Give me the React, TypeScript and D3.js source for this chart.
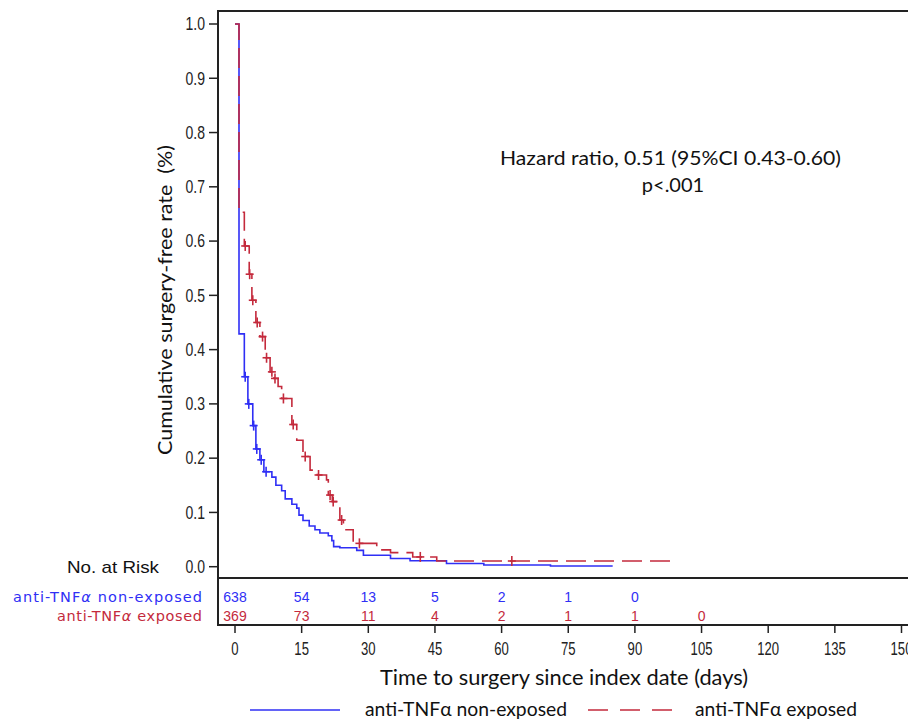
import React from "react";
import * as d3 from "d3";

// ---- data ----
const nonExposedTimes = [0, 0.9, 2.1, 2.9, 4.0, 4.7, 5.6, 6.5, 8.3, 9.2, 10.5, 11.3, 12.8, 13.9, 14.4, 15.3, 16.7, 18.0, 19.1, 21.0, 21.8, 22.2, 23.6, 27.4, 28.9, 35, 39.4, 47.6, 56, 71, 85];
const nonExposedSurv = [1.0, 0.429, 0.35, 0.30, 0.26, 0.217, 0.197, 0.175, 0.165, 0.15, 0.14, 0.125, 0.115, 0.108, 0.095, 0.085, 0.075, 0.068, 0.062, 0.057, 0.048, 0.037, 0.035, 0.030, 0.021, 0.015, 0.011, 0.006, 0.003, 0.0012, 0.0012];
const nonExposedCensor = [2.3, 3.1, 4.2, 4.9, 5.9, 7.0];

const exposedTimes = [0, 0.9, 2.1, 3.2, 3.8, 4.7, 5.6, 6.8, 7.9, 8.8, 9.7, 10.5, 12.8, 13.9, 15.3, 16.9, 18.5, 20.6, 21.0, 21.9, 23.6, 24.4, 26.6, 31.9, 35, 40, 45.4, 98, 98];
const exposedSurv = [1.0, 0.653, 0.591, 0.539, 0.491, 0.45, 0.424, 0.385, 0.359, 0.347, 0.332, 0.31, 0.262, 0.233, 0.203, 0.178, 0.169, 0.16, 0.132, 0.12, 0.086, 0.068, 0.043, 0.031, 0.026, 0.018, 0.0105, 0.0, 0.0];
const exposedCensor = [2.3, 3.3, 4.0, 5.0, 6.2, 7.1, 8.3, 9.0, 10.9, 13.1, 15.8, 18.8, 21.4, 22.1, 24.0, 28.0, 41.7, 62.3];

const riskTimes = [0, 15, 30, 45, 60, 75, 90, 105];
const riskNonExposed = ["638", "54", "13", "5", "2", "1", "0"];
const riskExposed = ["369", "73", "11", "4", "2", "1", "1", "0"];

const xTicks = [0, 15, 30, 45, 60, 75, 90, 105, 120, 135, 150];
const yTicks = [0, 0.1, 0.2, 0.3, 0.4, 0.5, 0.6, 0.7, 0.8, 0.9, 1.0];

const BLUE = "#2f2ff5";
const RED = "#c42a3c";

function survAt(times: number[], surv: number[], t: number) {
  let s = surv[0];
  for (let i = 0; i < times.length; i++) if (times[i] <= t) s = surv[i];
  return s;
}

export default function App() {
  const W = 908, H = 720;
  const x = d3.scaleLinear().domain([0, 150]).range([235, 901.5]);
  const y = d3.scaleLinear().domain([0, 1]).range([566.7, 24]);
  const frameLeft = 218, frameTop = 11, frameBottom = 578, tableBottom = 625;

  const line = d3
    .line<[number, number]>()
    .x((d) => x(d[0]))
    .y((d) => y(d[1]))
    .curve(d3.curveStepAfter);

  const bluePts: [number, number][] = nonExposedTimes.map((t, i) => [t, nonExposedSurv[i]]);
  const redPts: [number, number][] = exposedTimes.map((t, i) => [t, exposedSurv[i]]);

  const sans = "'Liberation Sans', Arial, sans-serif";
  const body = "Lato, 'Open Sans', sans-serif";

  const plus = (cx: number, cy: number, color: string, key: string) => (
    <g key={key} stroke={color} strokeWidth={1.6}>
      <line x1={cx - 4} x2={cx + 4} y1={cy} y2={cy} />
      <line x1={cx} x2={cx} y1={cy - 5} y2={cy + 5} />
    </g>
  );

  return (
    <svg width={W} height={H} style={{ position: "absolute", left: 0, top: 0, background: "#fff" }}>
      <rect x={0} y={0} width={W} height={H} fill="#fff" />
      {/* frame */}
      <path
        d={`M${W + 10},${frameTop} H${frameLeft} V${tableBottom} H${W + 10} M${frameLeft},${frameBottom} H${W + 10}`}
        fill="none"
        stroke="#222"
        strokeWidth={2}
      />
      {/* y ticks */}
      {yTicks.map((v) => (
        <g key={"yt" + v}>
          <line x1={209} x2={frameLeft} y1={y(v)} y2={y(v)} stroke="#222" strokeWidth={1.5} />
          <text
            transform={`translate(205,${y(v) + 6.3}) scale(0.8,1)`}
            textAnchor="end"
            fontFamily={sans}
            fontSize={17.5}
            fill="#222"
          >
            {v.toFixed(1)}
          </text>
        </g>
      ))}
      {/* x ticks */}
      {xTicks.map((v) => (
        <g key={"xt" + v}>
          <line x1={x(v)} x2={x(v)} y1={tableBottom} y2={tableBottom + 8} stroke="#222" strokeWidth={1.5} />
          <text
            transform={`translate(${x(v)},655) scale(0.75,1)`}
            textAnchor="middle"
            fontFamily={sans}
            fontSize={17.5}
            fill="#222"
          >
            {v}
          </text>
        </g>
      ))}
      {/* curves */}
      <path d={line(bluePts) || ""} fill="none" stroke={BLUE} strokeWidth={1.6} />
      <path d={line(redPts) || ""} fill="none" stroke={RED} strokeWidth={1.6} strokeDasharray="20 8" />
      {nonExposedCensor.map((t, i) => plus(x(t), y(survAt(nonExposedTimes, nonExposedSurv, t)), BLUE, "bc" + i))}
      {exposedCensor.map((t, i) => plus(x(t), y(survAt(exposedTimes, exposedSurv, t)), RED, "rc" + i))}

      {/* annotation */}
      <text x={670.5} y={165} textAnchor="middle" fontFamily={body} fontSize={20} fill="#111" textLength={341} lengthAdjust="spacingAndGlyphs">
        Hazard ratio, 0.51 (95%CI 0.43-0.60)
      </text>
      <text x={673} y={192} textAnchor="middle" fontFamily={body} fontSize={20} fill="#111">
        p&lt;.001
      </text>

      {/* y label */}
      <text
        transform={`translate(172,300) rotate(-90)`}
        textAnchor="middle"
        fontFamily={body}
        fontSize={20}
        fill="#111"
        textLength={310}
        lengthAdjust="spacingAndGlyphs"
        style={{ whiteSpace: "pre" }}
      >
        {"Cumulative surgery-free rate  (%)"}
      </text>

      {/* risk table */}
      <text x={67} y={573} fontFamily={sans} fontSize={17} fill="#111" textLength={92} lengthAdjust="spacingAndGlyphs">
        No. at Risk
      </text>
      <text x={13} y={602} fontFamily="'DejaVu Sans', sans-serif" fontSize={14.5} fill={BLUE} textLength={189} lengthAdjust="spacing">
        anti-TNF<tspan fontStyle="italic">α</tspan> non-exposed
      </text>
      <text x={202} y={621} textAnchor="end" fontFamily="'DejaVu Sans', sans-serif" fontSize={14.5} fill={RED} textLength={145} lengthAdjust="spacing">
        anti-TNF<tspan fontStyle="italic">α</tspan> exposed
      </text>
      {riskNonExposed.map((v, i) => (
        <text key={"rn" + i} x={x(riskTimes[i])} y={602} textAnchor="middle" fontFamily={sans} fontSize={14} fill={BLUE}>
          {v}
        </text>
      ))}
      {riskExposed.map((v, i) => (
        <text key={"re" + i} x={x(riskTimes[i])} y={621} textAnchor="middle" fontFamily={sans} fontSize={14} fill={RED}>
          {v}
        </text>
      ))}

      {/* x title */}
      <text x={564} y={685} textAnchor="middle" fontFamily={body} fontSize={21} fill="#111" textLength={368} lengthAdjust="spacingAndGlyphs">
        Time to surgery since index date (days)
      </text>

      {/* legend */}
      <line x1={250} x2={340} y1={710} y2={710} stroke={BLUE} strokeWidth={1.6} />
      <text x={365} y={716} fontFamily={body} fontSize={19.5} fill="#111" textLength={202} lengthAdjust="spacingAndGlyphs">
        anti-TNFα non-exposed
      </text>
      <line x1={588} x2={672} y1={710} y2={710} stroke={RED} strokeWidth={1.6} strokeDasharray="20 12" />
      <text x={695} y={716} fontFamily={body} fontSize={19.5} fill="#111" textLength={162} lengthAdjust="spacingAndGlyphs">
        anti-TNFα exposed
      </text>
    </svg>
  );
}
